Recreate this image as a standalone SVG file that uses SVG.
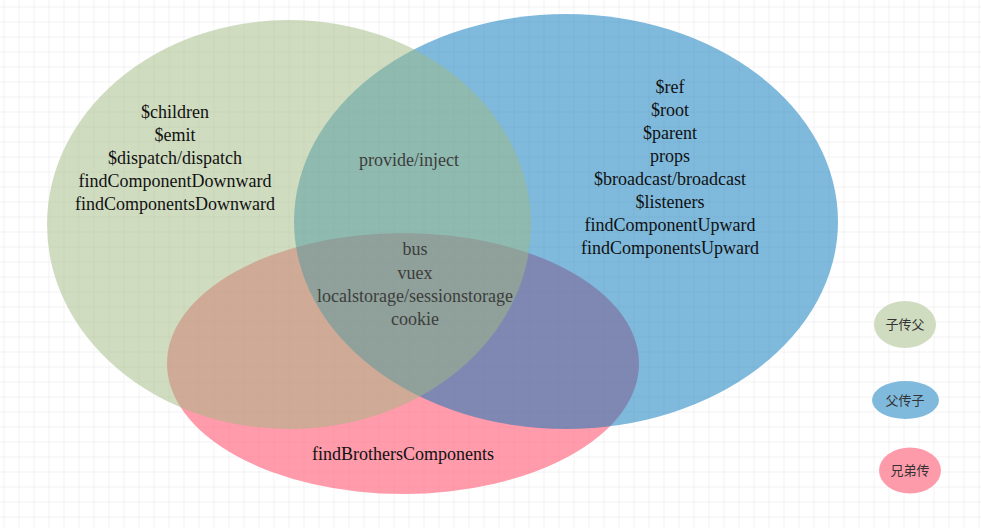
<svg xmlns="http://www.w3.org/2000/svg" width="981" height="528" viewBox="0 0 981 528">
<defs>
<pattern id="grid" x="3.5" y="6.5" width="15" height="15" patternUnits="userSpaceOnUse">
<path d="M0 0H15M0 0V15" fill="none" stroke="#e6e6e6" stroke-width="1"/>
</pattern>
<style>
.t{font-family:"Liberation Serif","Times New Roman",serif;font-size:18px;fill:#111;text-anchor:middle}
.c{font-family:"Liberation Serif","Times New Roman",serif;font-size:18px;fill:#3d3d3d;text-anchor:middle}
.l{font-family:"Noto Sans CJK SC","Noto Sans",sans-serif;font-size:13px;fill:#333;text-anchor:middle}
</style>
</defs>
<rect width="981" height="528" fill="#fff"/>
<rect width="981" height="528" fill="url(#grid)"/>
<g id="brother">
<ellipse cx="403" cy="363.5" rx="236" ry="130.5" fill="#ff5873" fill-opacity="0.6"/>
<text class="t" x="403" y="460">findBrothersComponents</text>
</g>
<g id="parent-to-child">
<ellipse cx="566" cy="221.5" rx="272" ry="207.5" fill="#0075bb" fill-opacity="0.5"/>
<text class="t" x="670" y="93">$ref</text>
<text class="t" x="670" y="116">$root</text>
<text class="t" x="670" y="139">$parent</text>
<text class="t" x="670" y="162">props</text>
<text class="t" x="670" y="185">$broadcast/broadcast</text>
<text class="t" x="670" y="208">$listeners</text>
<text class="t" x="670" y="231">findComponentUpward</text>
<text class="t" x="670" y="254">findComponentsUpward</text>
</g>
<g id="child-to-parent">
<ellipse cx="289" cy="224.5" rx="242" ry="204.5" fill="#9fb981" fill-opacity="0.5"/>
<text class="t" x="175" y="118">$children</text>
<text class="t" x="175" y="141">$emit</text>
<text class="t" x="175" y="164">$dispatch/dispatch</text>
<text class="t" x="175" y="187">findComponentDownward</text>
<text class="t" x="175" y="210">findComponentsDownward</text>
</g>
<g id="shared">
<text class="c" x="409" y="166">provide/inject</text>
<text class="c" x="415" y="255">bus</text>
<text class="c" x="415" y="279">vuex</text>
<text class="c" x="415" y="302">localstorage/sessionstorage</text>
<text class="c" x="415" y="325">cookie</text>
</g>
<g id="legend-child-to-parent">
<ellipse cx="905" cy="324.5" rx="31" ry="23.5" fill="#cfdcc0"/>
<text class="l" x="905" y="329">子传父</text>
</g>
<g id="legend-parent-to-child">
<ellipse cx="905.5" cy="400" rx="33.5" ry="19" fill="#7fbadd"/>
<text class="l" x="905" y="405">父传子</text>
</g>
<g id="legend-brother">
<ellipse cx="910" cy="470.5" rx="31" ry="23" fill="#fe9bab"/>
<text class="l" x="910" y="475">兄弟传</text>
</g>
<g id="connectors"/>
</svg>
